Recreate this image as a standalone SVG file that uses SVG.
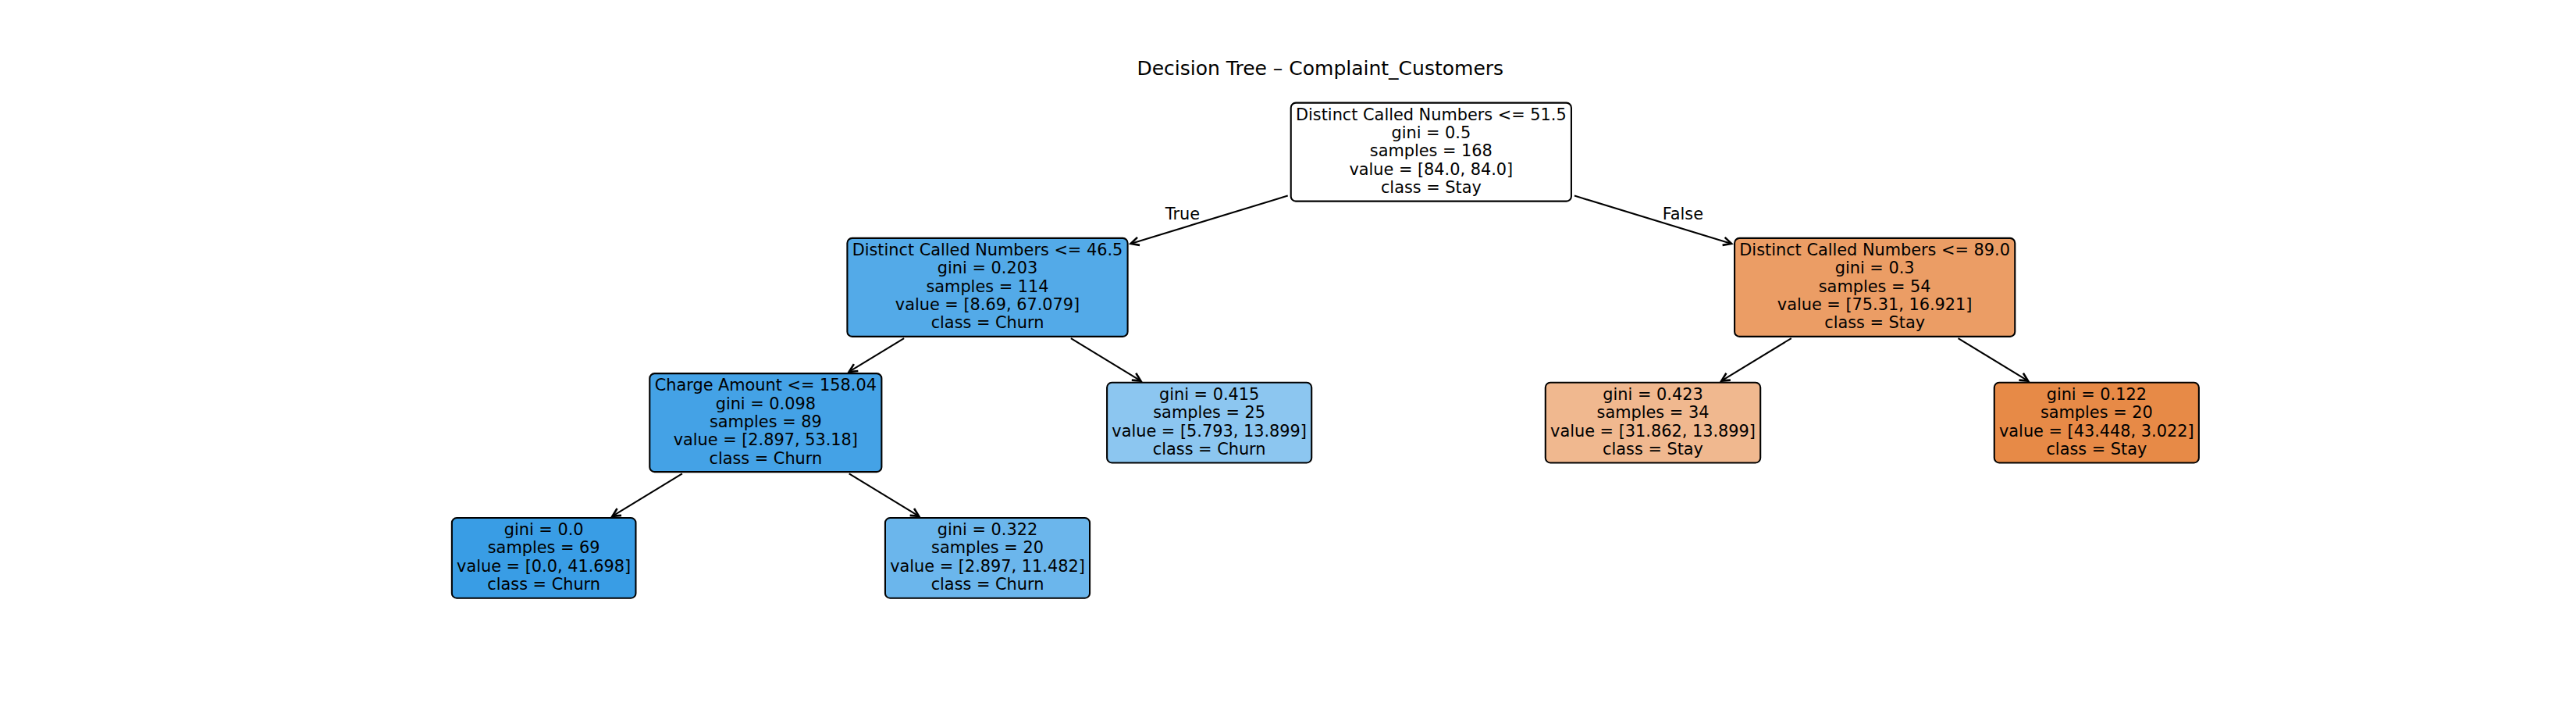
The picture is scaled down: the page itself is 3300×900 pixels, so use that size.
<svg xmlns="http://www.w3.org/2000/svg" width="3300" height="900" viewBox="0 0 3300 900">
<style>
text{font-family:"DejaVu Sans","Liberation Sans",sans-serif;font-size:20.83px;fill:#000;}
.t{text-anchor:middle;}
.box{stroke:#000;stroke-width:2.08;}
.edge{stroke:#000;stroke-width:2.08;fill:none;marker-end:url(#ah);}
.title{font-size:25px;text-anchor:middle;}
</style>
<defs>
<marker id="ah" markerUnits="userSpaceOnUse" markerWidth="20" markerHeight="20" viewBox="-12 -8 16 16" refX="0" refY="0" orient="auto" overflow="visible">
<path d="M -8.33 -4.17 L 0 0 L -8.33 4.17" fill="none" stroke="#000" stroke-width="2.08"/>
</marker>
</defs>
<rect width="3300" height="900" fill="#fff"/>
<text class="title" x="1691.25" y="95.5">Decision Tree – Complaint_Customers</text>
<g id="connectors">
<line class="edge" x1="1649.74" y1="250.59" x2="1448.59" y2="311.92"/>
<line class="edge" x1="2016.92" y1="250.59" x2="2218.08" y2="311.92"/>
<line class="edge" x1="1158.10" y1="433.05" x2="1087.73" y2="475.96"/>
<line class="edge" x1="1371.90" y1="433.05" x2="1461.41" y2="487.63"/>
<line class="edge" x1="2294.77" y1="433.05" x2="2205.26" y2="487.63"/>
<line class="edge" x1="2508.57" y1="433.05" x2="2598.07" y2="487.63"/>
<line class="edge" x1="873.93" y1="606.30" x2="784.43" y2="660.88"/>
<line class="edge" x1="1087.73" y1="606.30" x2="1177.24" y2="660.88"/>
<text x="1537" y="280.7" text-anchor="end">True</text>
<text x="2129.7" y="280.7">False</text>
</g>
<g id="node-root">
<rect class="box" x="1653.73" y="131.63" width="359.2" height="126" rx="6.25" fill="#ffffff"/>
<text class="t" x="1833.33" y="153.71">Distinct Called Numbers &lt;= 51.5<tspan x="1833.33" dy="23.33">gini = 0.5</tspan><tspan x="1833.33" dy="23.33">samples = 168</tspan><tspan x="1833.33" dy="23.33">value = [84.0, 84.0]</tspan><tspan x="1833.33" dy="23.33">class = Stay</tspan></text>
</g>
<g id="node-L">
<rect class="box" x="1085.4" y="304.88" width="359.2" height="126" rx="6.25" fill="#53aae8"/>
<text class="t" x="1265" y="326.96">Distinct Called Numbers &lt;= 46.5<tspan x="1265" dy="23.33">gini = 0.203</tspan><tspan x="1265" dy="23.33">samples = 114</tspan><tspan x="1265" dy="23.33">value = [8.69, 67.079]</tspan><tspan x="1265" dy="23.33">class = Churn</tspan></text>
</g>
<g id="node-R">
<rect class="box" x="2222.07" y="304.88" width="359.2" height="126" rx="6.25" fill="#eb9d65"/>
<text class="t" x="2401.67" y="326.96">Distinct Called Numbers &lt;= 89.0<tspan x="2401.67" dy="23.33">gini = 0.3</tspan><tspan x="2401.67" dy="23.33">samples = 54</tspan><tspan x="2401.67" dy="23.33">value = [75.31, 16.921]</tspan><tspan x="2401.67" dy="23.33">class = Stay</tspan></text>
</g>
<g id="node-LL">
<rect class="box" x="832.28" y="478.13" width="297.1" height="126" rx="6.25" fill="#44a2e6"/>
<text class="t" x="980.83" y="500.21">Charge Amount &lt;= 158.04<tspan x="980.83" dy="23.33">gini = 0.098</tspan><tspan x="980.83" dy="23.33">samples = 89</tspan><tspan x="980.83" dy="23.33">value = [2.897, 53.18]</tspan><tspan x="980.83" dy="23.33">class = Churn</tspan></text>
</g>
<g id="node-LR">
<rect class="box" x="1418.12" y="489.8" width="262.1" height="102.66" rx="6.25" fill="#8cc6f0"/>
<text class="t" x="1549.17" y="511.88">gini = 0.415<tspan x="1549.17" dy="23.33">samples = 25</tspan><tspan x="1549.17" dy="23.33">value = [5.793, 13.899]</tspan><tspan x="1549.17" dy="23.33">class = Churn</tspan></text>
</g>
<g id="node-RL">
<rect class="box" x="1979.8" y="489.8" width="275.4" height="102.66" rx="6.25" fill="#f0b88f"/>
<text class="t" x="2117.5" y="511.88">gini = 0.423<tspan x="2117.5" dy="23.33">samples = 34</tspan><tspan x="2117.5" dy="23.33">value = [31.862, 13.899]</tspan><tspan x="2117.5" dy="23.33">class = Stay</tspan></text>
</g>
<g id="node-RR">
<rect class="box" x="2554.78" y="489.8" width="262.1" height="102.66" rx="6.25" fill="#e78a47"/>
<text class="t" x="2685.83" y="511.88">gini = 0.122<tspan x="2685.83" dy="23.33">samples = 20</tspan><tspan x="2685.83" dy="23.33">value = [43.448, 3.022]</tspan><tspan x="2685.83" dy="23.33">class = Stay</tspan></text>
</g>
<g id="node-LLL">
<rect class="box" x="578.87" y="663.05" width="235.6" height="102.66" rx="6.25" fill="#399de5"/>
<text class="t" x="696.67" y="685.13">gini = 0.0<tspan x="696.67" dy="23.33">samples = 69</tspan><tspan x="696.67" dy="23.33">value = [0.0, 41.698]</tspan><tspan x="696.67" dy="23.33">class = Churn</tspan></text>
</g>
<g id="node-LLR">
<rect class="box" x="1133.95" y="663.05" width="262.1" height="102.66" rx="6.25" fill="#6bb6ec"/>
<text class="t" x="1265" y="685.13">gini = 0.322<tspan x="1265" dy="23.33">samples = 20</tspan><tspan x="1265" dy="23.33">value = [2.897, 11.482]</tspan><tspan x="1265" dy="23.33">class = Churn</tspan></text>
</g>
</svg>
